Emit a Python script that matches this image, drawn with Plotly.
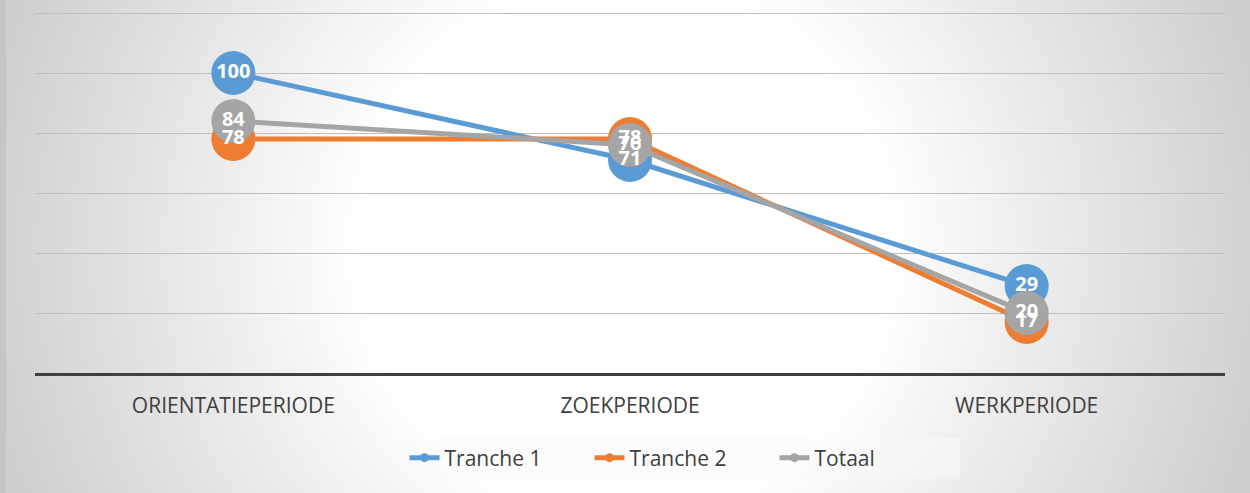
import plotly.graph_objects as go

categories = ["ORIENTATIEPERIODE", "ZOEKPERIODE", "WERKPERIODE"]
tranche1 = [100, 71, 29]
tranche2 = [78, 78, 17]
totaal = [84, 76, 20]

series_names = ["Tranche 1", "Tranche 2", "Totaal"]
series_values = [tranche1, tranche2, totaal]
series_colors = ["#5b9bd5", "#ed7d31", "#a5a5a5"]

FONT = "Open Sans"
W, H = 1250, 493

fig = go.Figure()

# decorative radial background on a full-figure helper subplot (circle ~650px radius)
hx = 650 / W
hy = 650 / H
fig.add_trace(go.Scatter(
    x=[0.5 - hx, 0.5 + hx, 0.5 + hx, 0.5 - hx, 0.5 - hx],
    y=[0.5 - hy, 0.5 - hy, 0.5 + hy, 0.5 + hy, 0.5 - hy],
    mode="lines", fill="toself",
    line=dict(width=0), hoverinfo="skip", showlegend=False,
    fillgradient=dict(type="radial",
                      colorscale=[[0, "#ffffff"], [0.4, "#ffffff"], [1, "#cfcfcf"]]),
    xaxis="x", yaxis="y",
))

for name, vals, col in zip(series_names, series_values, series_colors):
    fig.add_trace(go.Scatter(
        x=categories, y=vals, mode="lines+markers", name=name,
        line=dict(color=col, width=5),
        marker=dict(color=col, size=44),
        showlegend=False, xaxis="x2", yaxis="y2",
    ))

# legend entries
for name, col in zip(series_names, series_colors):
    fig.add_trace(go.Scatter(
        x=[None], y=[None], mode="lines+markers", name=name,
        line=dict(color=col, width=5), marker=dict(color=col, size=9),
        xaxis="x2", yaxis="y2",
    ))

# data labels on top of all markers
for name, vals in zip(series_names, series_values):
    fig.add_trace(go.Scatter(
        x=categories, y=vals, mode="text", text=[str(v) for v in vals],
        textposition="middle center",
        textfont=dict(family=FONT, size=20, color="white", weight="bold"),
        showlegend=False, hoverinfo="skip", xaxis="x2", yaxis="y2",
    ))

fig.update_layout(
    width=W, height=H,
    margin=dict(l=0, r=0, t=0, b=0),
    paper_bgcolor="#d0d0d0", plot_bgcolor="rgba(0,0,0,0)",
    font=dict(family=FONT, color="#404040"),
    xaxis=dict(domain=[0, 1], range=[0, 1], visible=False, fixedrange=True),
    yaxis=dict(domain=[0, 1], range=[0, 1], visible=False, fixedrange=True),
    xaxis2=dict(domain=[35 / W, 1225 / W], anchor="y2", range=[-0.5, 2.5],
                type="category", showgrid=False, showline=True, linecolor="#404040",
                linewidth=3, ticks="", ticklabelstandoff=12,
                tickfont=dict(family=FONT, size=21, color="#404040")),
    yaxis2=dict(domain=[120 / H, (H - 7) / H], anchor="x2", range=[0, 122], dtick=20,
                showgrid=True, gridcolor="#bfbfbf", gridwidth=1, zeroline=False,
                showticklabels=False, showline=False),
    legend=dict(orientation="h", x=0.5456, xanchor="center", y=35 / H, yanchor="middle",
                font=dict(family=FONT, size=21, color="#404040"),
                bgcolor="rgba(250,250,250,0.5)", entrywidth=140),
    shapes=[dict(type="rect", xref="paper", yref="paper", x0=0, x1=6 / W, y0=0, y1=1,
                 fillcolor="#c6c6c6", line=dict(width=0), layer="above")],
)

fig.write_html("out.html", config={"displayModeBar": False},
               post_script="document.body.style.margin='0';document.body.style.overflow='hidden';")
